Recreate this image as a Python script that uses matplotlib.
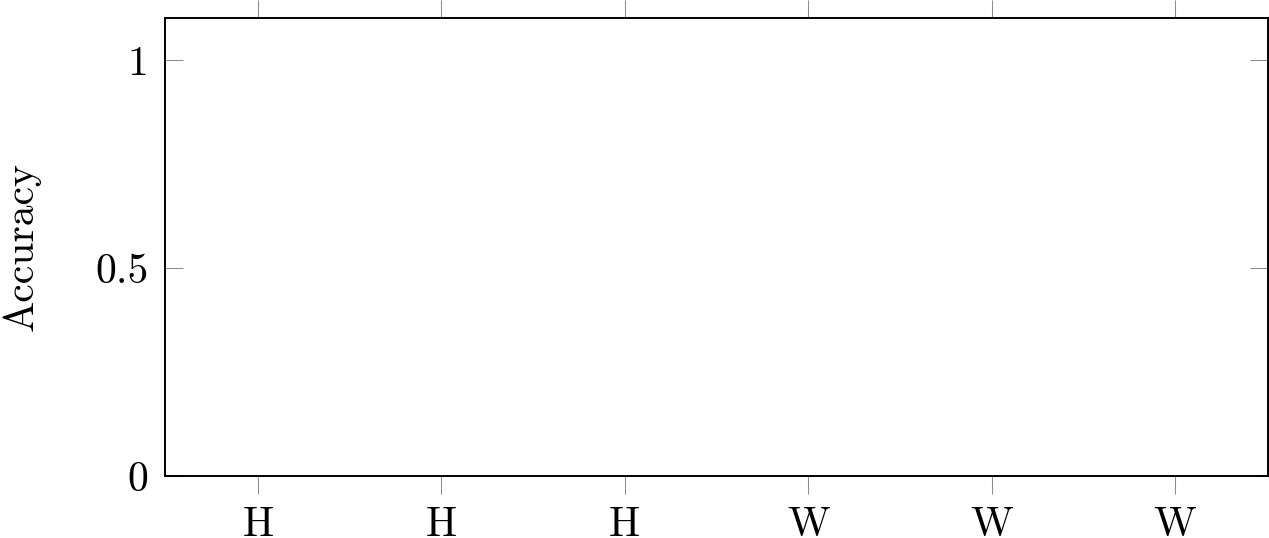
import matplotlib
matplotlib.use("Agg")
import matplotlib.pyplot as plt

# categories on the x axis (no series are drawn in the reference)
categories = ['H', 'H', 'H', 'W', 'W', 'W']
y_ticks = [0, 0.5, 1]
y_labels = ['0', '0.5', '1']
y_title = 'Accuracy'

plt.rcParams['font.family'] = ['cmr10', 'DejaVu Serif']
plt.rcParams['axes.formatter.use_mathtext'] = True

fig = plt.figure(figsize=(12.69, 5.38), dpi=100)
ax = fig.add_axes([165 / 1269, 62 / 538, 1103 / 1269, 458 / 538])

x = list(range(len(categories)))
ax.set_xlim(-0.507, len(categories) - 1 + 0.507)
ax.set_ylim(0, 1.101)

ax.set_xticks(x)
ax.set_xticklabels(categories)
ax.set_yticks(y_ticks)
ax.set_yticklabels(y_labels)
ax.set_ylabel(y_title, fontsize=30, labelpad=39)

for s in ax.spines.values():
    s.set_linewidth(1.4)
    s.set_color('black')

ax.tick_params(axis='x', direction='out', top=True, bottom=True, length=13,
               width=0.75, color='#8c8c8c', labelsize=30, pad=9)
ax.tick_params(axis='y', direction='in', left=True, right=True, length=13,
               width=0.75, color='#8c8c8c', labelsize=30, pad=12)

fig.savefig('out.png', dpi=100)
